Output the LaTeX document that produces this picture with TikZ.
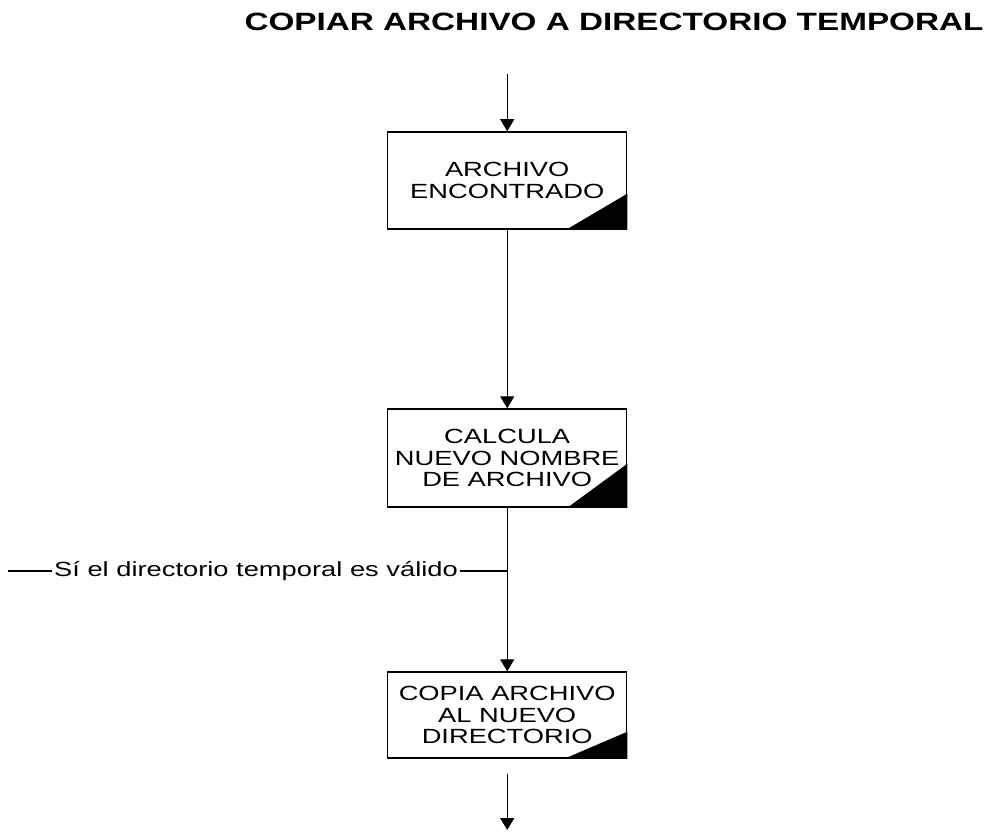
\documentclass[tikz,border=0pt]{standalone}
\usepackage{fontspec}
\setmainfont{Liberation Sans}[FakeStretch=1.33]
\usetikzlibrary{arrows.meta}

\tikzset{
  paso/.style={draw, line width=1pt, minimum width=5.975cm, align=center,
    inner sep=0pt, font=\fontsize{14.6}{15}\selectfont},
  flecha/.style={line width=1pt, -{Triangle[width=0.35cm,length=0.3cm]}}
}

\begin{document}
\begin{tikzpicture}
\useasboundingbox (0,0) rectangle (24.75,20.9);

\node (titulo) at (15.35,20.35) {\fontsize{17.8}{18}\selectfont\bfseries COPIAR ARCHIVO A DIRECTORIO TEMPORAL};
\coordinate (inicio) at (12.68,19.05);

\node[paso, minimum height=2.425cm] (encontrado) at (12.68,16.39) {ARCHIVO\\ENCONTRADO};
\node[paso, minimum height=2.45cm] (calcula) at (12.68,9.45) {CALCULA\\NUEVO NOMBRE\\DE ARCHIVO};
\node[paso, minimum height=2.15cm] (copia) at (12.68,3.025) {COPIA ARCHIVO\\AL NUEVO\\DIRECTORIO};

\fill (encontrado.south east) -- ++(-1.525,0) -- ++(1.525,0.9) -- cycle;
\fill (calcula.south east) -- ++(-1.5,0) -- ++(1.5,1.1) -- cycle;
\fill (copia.south east) -- ++(-1.575,0) -- ++(1.575,0.675) -- cycle;

\draw[flecha] (inicio) -- (encontrado.north);
\draw[flecha] (encontrado.south) -- (calcula.north);
\draw[flecha] (calcula.south) -- (copia.north);
\coordinate (fin) at (12.68,0.15);
\draw[flecha, shorten <=0.375cm] (copia.south) -- (fin);

\coordinate (izq) at (0.2,6.625);
\coordinate (cruce) at (12.68,6.625);
\node[inner sep=1.5pt, font=\fontsize{14.6}{15}\selectfont] (valido) at (6.4,6.625) {Sí el directorio temporal es válido};
\draw[line width=1pt] (izq) -- (valido.west);
\draw[line width=1pt] (valido.east) -- (cruce);
\end{tikzpicture}
\end{document}
